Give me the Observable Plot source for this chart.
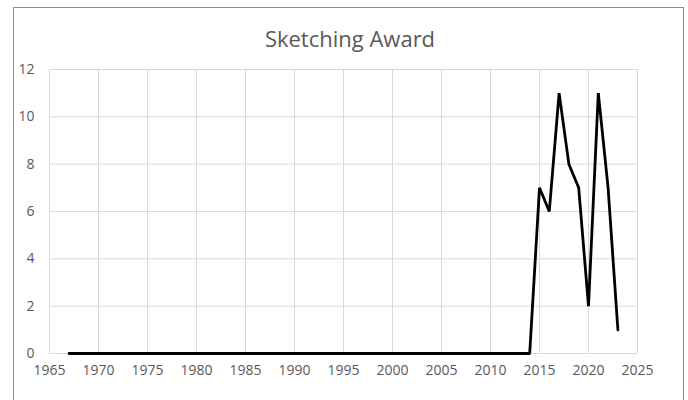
<!DOCTYPE html>
<html>
<head>
<meta charset="utf-8">
<script src="https://cdn.jsdelivr.net/npm/d3@7"></script>
<script src="https://cdn.jsdelivr.net/npm/@observablehq/plot@0.6"></script>
<style>
  html, body { margin: 0; padding: 0; background: #fff; overflow: hidden; }
  #chart { position: relative; width: 688px; height: 400px; overflow: hidden; font-family: "Open Sans", "Noto Sans", sans-serif; }
  #chart svg { display: block; max-width: none !important; }
  #title { position: absolute; left: 0; width: 700px; top: 23px; text-align: center; font-size: 22px; color: #595959; }
  #frame { position: fixed; left: 13px; right: 4px; top: 7px; bottom: -20px; border: 1.5px solid #8c8c8c; pointer-events: none; }
</style>
</head>
<body>
<div id="chart"></div>
<div id="frame"></div>
<script>
// Award counts per year
const years = d3.range(1967, 2024);
const recentYears = [2015, 2016, 2017, 2018, 2019, 2020, 2021, 2022, 2023];
const recentCounts = [7, 6, 11, 8, 7, 2, 11, 7, 1];

const xTicks = [1965, 1970, 1975, 1980, 1985, 1990, 1995, 2000, 2005, 2010, 2015, 2020, 2025];
const yTicks = [0, 2, 4, 6, 8, 10, 12];

const data = years.map(year => {
  const i = recentYears.indexOf(year);
  return {year, count: i >= 0 ? recentCounts[i] : 0};
});

const chart = Plot.plot({
  width: 688,
  height: 400,
  marginLeft: 49,
  marginRight: 51,
  marginTop: 69,
  marginBottom: 47,
  style: {fontFamily: "'Open Sans', 'Noto Sans', sans-serif", fontSize: "14px", color: "#595959", background: "transparent"},
  x: {domain: [1965, 2025], ticks: xTicks, tickFormat: d => String(d)},
  y: {domain: [0, 12], ticks: yTicks},
  marks: [
    Plot.gridX(xTicks, {stroke: "#d9d9d9", strokeOpacity: 1, strokeWidth: 1}),
    Plot.gridY(yTicks, {stroke: "#d9d9d9", strokeOpacity: 1, strokeWidth: 1}),
    Plot.axisX(xTicks, {tickSize: 0, tickPadding: 12, label: null, tickFormat: d => String(d), fill: "#595959", fontSize: 14}),
    Plot.axisY(yTicks, {tickSize: 0, tickPadding: 15, label: null, fill: "#595959", fontSize: 14}),
    Plot.line(data, {x: "year", y: "count", stroke: "#000", strokeWidth: 2.8, strokeLinejoin: "miter"})
  ]
});

const root = document.getElementById("chart");
root.appendChild(chart);

const title = document.createElement("div");
title.id = "title";
title.textContent = "Sketching Award";
root.appendChild(title);
</script>
</body>
</html>
